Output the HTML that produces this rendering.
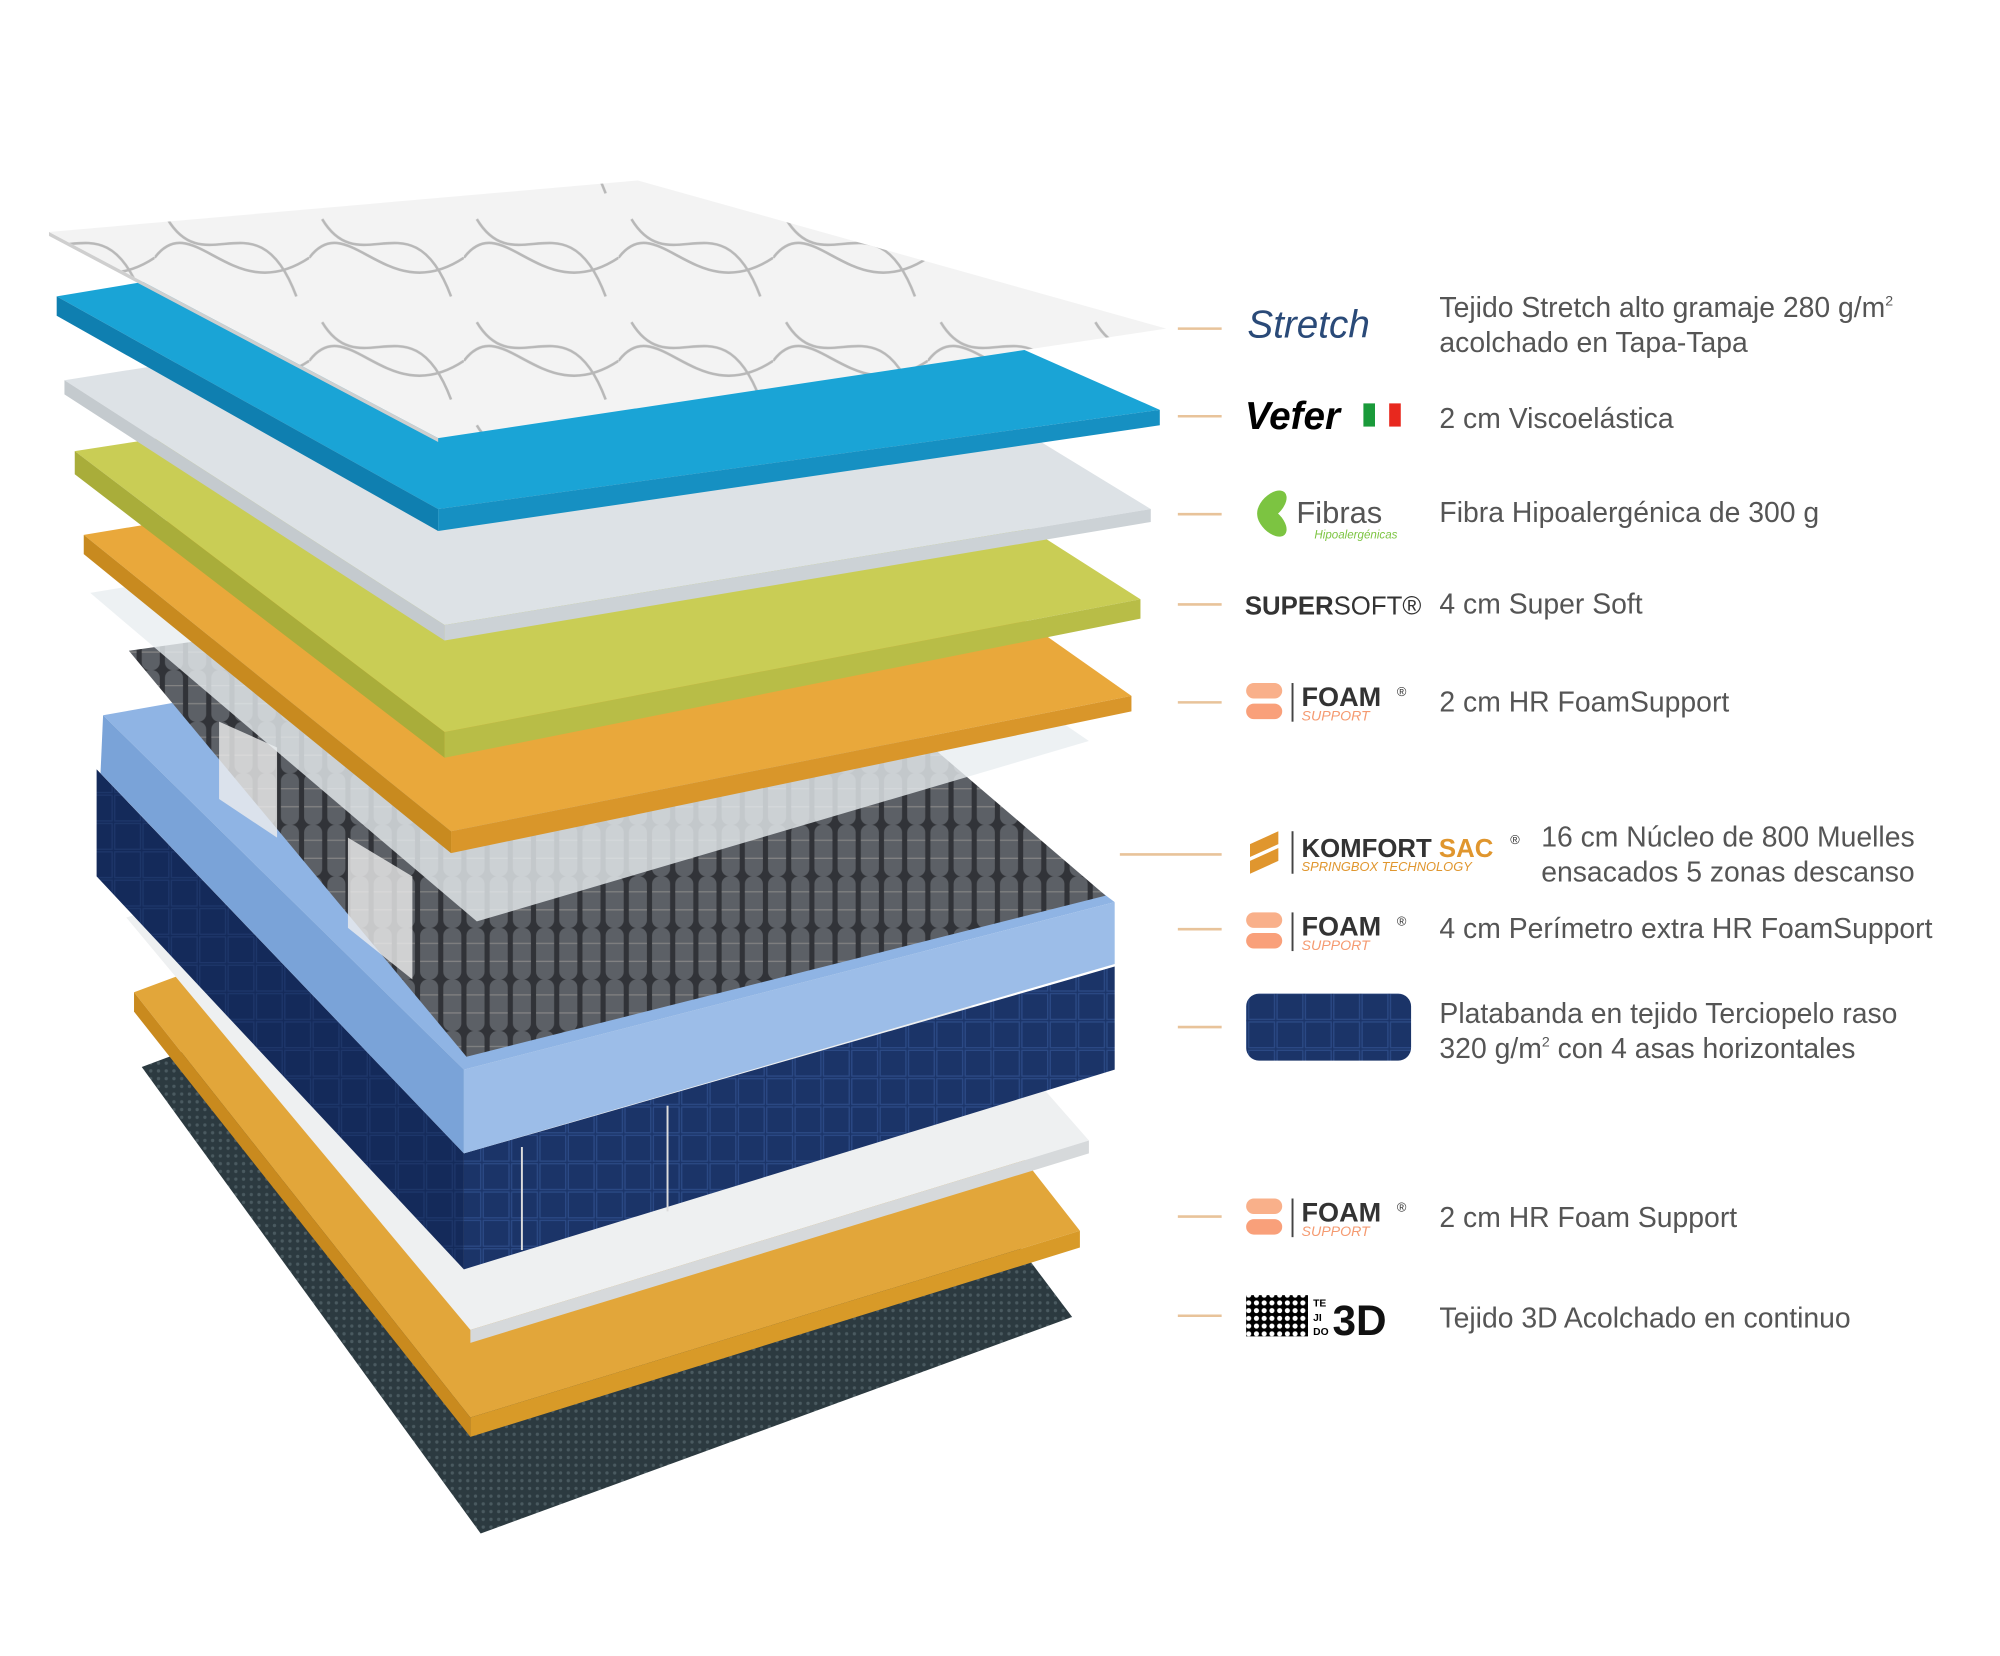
<!DOCTYPE html>
<html><head><meta charset="utf-8"><style>
html,body{margin:0;padding:0;background:#fff}
svg{display:block}
text{font-family:"Liberation Sans",sans-serif}
</style></head><body>
<svg width="2000" height="1656" viewBox="0 0 1552 1285" xmlns="http://www.w3.org/2000/svg">
<defs>
<pattern id="dots" width="6" height="6" patternUnits="userSpaceOnUse"><rect width="6" height="6" fill="#2c3a40"/><circle cx="3" cy="3" r="1.3" fill="#4a5a60"/></pattern>
<pattern id="quilt" width="22" height="22" patternUnits="userSpaceOnUse"><rect width="22" height="22" fill="#1b3468"/><rect x="1" y="1" width="20" height="20" fill="none" stroke="#2c4a86" stroke-width="1"/></pattern>
<pattern id="spr" width="18" height="40" patternUnits="userSpaceOnUse"><rect width="18" height="40" fill="#3a3d42"/><rect x="2" y="0" width="14" height="40" rx="6" fill="#6d7178"/><line x1="2" y1="12" x2="16" y2="12" stroke="#999" /><line x1="2" y1="26" x2="16" y2="26" stroke="#999"/></pattern>
<pattern id="swirl" width="120" height="80" patternUnits="userSpaceOnUse"><rect width="120" height="80" fill="#f3f3f3"/><path d="M0 40 C30 0 60 80 120 40 M10 10 C40 60 80 -10 110 70" stroke="#b8b8b8" stroke-width="2" fill="none"/></pattern>
<pattern id="net" width="6" height="6" patternUnits="userSpaceOnUse"><rect width="6" height="6" fill="#000"/><circle cx="3" cy="3" r="2" fill="#fff"/></pattern>
</defs>

<polygon points="110,828 560,660 832,1022 373,1190" fill="url(#dots)"/>
<polygon points="104,770 560,600 838,955 365,1100" fill="#e2a63a"/>
<polygon points="104,770 365,1100 365,1115 104,785" fill="#c98a1e"/>
<polygon points="365,1100 838,955 838,968 365,1115" fill="#d89a28"/>
<polygon points="98,712 560,560 845,885 365,1032" fill="#eef0f1"/>
<polygon points="365,1032 845,885 845,895 365,1042" fill="#d6d9db"/>

<polygon points="75,597 360,895 360,985 75,680" fill="url(#quilt)"/>
<polygon points="75,597 360,895 360,985 75,680" fill="#0d1f4a" opacity="0.45"/>
<polygon points="360,895 865,750 865,830 360,985" fill="url(#quilt)"/>
<line x1="405" y1="890" x2="405" y2="970" stroke="#ddd" stroke-width="1.5"/>
<line x1="518" y1="858" x2="518" y2="940" stroke="#ddd" stroke-width="1.5"/>
<polygon points="80,555 560,470 865,700 360,830" fill="#8fb4e4"/>
<polygon points="80,555 360,830 360,895 78,600" fill="#7aa3d8"/>
<polygon points="360,830 865,700 865,748 360,895" fill="#9cbde8"/>
<polygon points="100,505 560,440 858,695 362,820" fill="url(#spr)"/>
<polygon points="100,505 560,440 858,695 362,820" fill="#000" opacity="0.15"/>
<polygon points="170,560 215,580 215,650 170,620" fill="#eee" opacity="0.8"/>
<polygon points="270,650 320,680 320,760 270,720" fill="#eee" opacity="0.8"/>
<polygon points="70,460 560,380 845,575 370,715" fill="#e8eef0" opacity="0.8"/>
<polygon points="65,415 580,330 878,540 350,645" fill="#e9a83b"/>
<polygon points="65,415 350,645 350,662 65,430" fill="#c88a1f"/>
<polygon points="350,645 878,540 878,552 350,662" fill="#d9962a"/>
<polygon points="58,350 580,270 885,465 345,568" fill="#c9cd55"/>
<polygon points="58,350 345,568 345,588 58,368" fill="#a9ad3a"/>
<polygon points="345,568 885,465 885,480 345,588" fill="#b8bd47"/>
<polygon points="50,295 590,210 893,395 345,485" fill="#dde2e6"/>
<polygon points="50,295 345,485 345,497 50,306" fill="#c4cace"/>
<polygon points="345,485 893,395 893,405 345,497" fill="#ccd2d6"/>
<polygon points="44,230 520,150 900,318 340,395" fill="#1aa4d6"/>
<polygon points="44,230 340,395 340,412 44,245" fill="#0f7fb0"/>
<polygon points="340,395 900,318 900,330 340,412" fill="#1690c2"/>
<polygon points="38,180 495,140 905,255 340,340" fill="url(#swirl)"/>
<polygon points="38,180 340,340 340,343 38,183" fill="#cfcfcf"/>

<g stroke="#e8c39a" stroke-width="2">
<line x1="914" y1="255" x2="948" y2="255"/>
<line x1="914" y1="323" x2="948" y2="323"/>
<line x1="914" y1="399" x2="948" y2="399"/>
<line x1="914" y1="469" x2="948" y2="469"/>
<line x1="914" y1="545" x2="948" y2="545"/>
<line x1="869" y1="663" x2="948" y2="663"/>
<line x1="914" y1="721" x2="948" y2="721"/>
<line x1="914" y1="797" x2="948" y2="797"/>
<line x1="914" y1="944" x2="948" y2="944"/>
<line x1="914" y1="1021" x2="948" y2="1021"/>
</g>

<text x="968" y="262" font-family="Liberation Serif,serif" font-style="italic" font-size="30" fill="#2a4a78">Stretch</text>
<text x="966" y="333" font-family="Liberation Serif,serif" font-style="italic" font-weight="bold" font-size="30" fill="#000">Vefer</text>
<rect x="1058" y="313" width="9" height="18" fill="#1a9a3a"/><rect x="1068" y="313" width="9" height="18" fill="#fff"/><rect x="1078" y="313" width="9" height="18" fill="#e8281e"/>
<g fill="#7cc441"><ellipse cx="987" cy="392" rx="8" ry="14" transform="rotate(45 987 392)"/><ellipse cx="987" cy="405" rx="8" ry="14" transform="rotate(-45 987 405)"/></g>
<text x="1006" y="406" font-size="24" fill="#555">Fibras</text>
<text x="1020" y="418" font-size="9" font-style="italic" fill="#7cc441">Hipoalergénicas</text>
<text x="966" y="477" font-size="20" font-weight="bold" fill="#333">SUPER<tspan font-weight="normal">SOFT®</tspan></text>

<g id="foam">
<rect x="967" y="530" width="28" height="12" rx="6" fill="#f9b08a"/><rect x="967" y="546" width="28" height="12" rx="6" fill="#f9a07a"/>
<line x1="1003" y1="530" x2="1003" y2="560" stroke="#444" stroke-width="1.5"/>
<text x="1010" y="548" font-size="21" font-weight="bold" fill="#333">FOAM</text><text x="1084" y="540" font-size="10" fill="#333">®</text>
<text x="1010" y="559" font-size="11" font-style="italic" fill="#f59a70">SUPPORT</text>
</g>
<use href="#foam" y="178"/>
<use href="#foam" y="400"/>

<polygon points="970,655 992,645 992,655 970,665" fill="#e0962e"/><polygon points="970,668 992,658 992,668 970,678" fill="#e0962e"/>
<line x1="1003" y1="645" x2="1003" y2="678" stroke="#444" stroke-width="1.5"/>
<text x="1010" y="665" font-size="20" font-weight="bold" fill="#333">KOMFORT <tspan fill="#e0962e">SAC</tspan></text><text x="1172" y="655" font-size="10" fill="#333">®</text>
<text x="1010" y="676" font-size="10" font-style="italic" fill="#e0962e">SPRINGBOX TECHNOLOGY</text>

<rect x="967" y="771" width="128" height="52" rx="10" fill="url(#quilt)"/>

<rect x="967" y="1005" width="48" height="32" fill="url(#net)"/>
<text x="1019" y="1014" font-size="8" font-weight="bold">TE</text><text x="1019" y="1025" font-size="8" font-weight="bold">JI</text><text x="1019" y="1036" font-size="8" font-weight="bold">DO</text>
<text x="1034" y="1036" font-size="33" font-weight="bold" fill="#111" textLength="42" lengthAdjust="spacingAndGlyphs">3D</text>

<g font-size="22" fill="#555">
<text x="1117" y="246">Tejido Stretch alto gramaje 280 g/m<tspan font-size="11" dy="-9">2</tspan></text>
<text x="1117" y="273">acolchado en Tapa-Tapa</text>
<text x="1117" y="332">2 cm Viscoelástica</text>
<text x="1117" y="405">Fibra Hipoalergénica de 300 g</text>
<text x="1117" y="476">4 cm Super Soft</text>
<text x="1117" y="552">2 cm HR FoamSupport</text>
<text x="1196" y="657">16 cm Núcleo de 800 Muelles</text>
<text x="1196" y="684">ensacados 5 zonas descanso</text>
<text x="1117" y="728">4 cm Perímetro extra HR FoamSupport</text>
<text x="1117" y="794">Platabanda en tejido Terciopelo raso</text>
<text x="1117" y="821">320 g/m<tspan font-size="11" dy="-9">2</tspan><tspan dy="9"> con 4 asas horizontales</tspan></text>
<text x="1117" y="952">2 cm HR Foam Support</text>
<text x="1117" y="1030">Tejido 3D Acolchado en continuo</text>
</g>
</svg>
</body></html>
